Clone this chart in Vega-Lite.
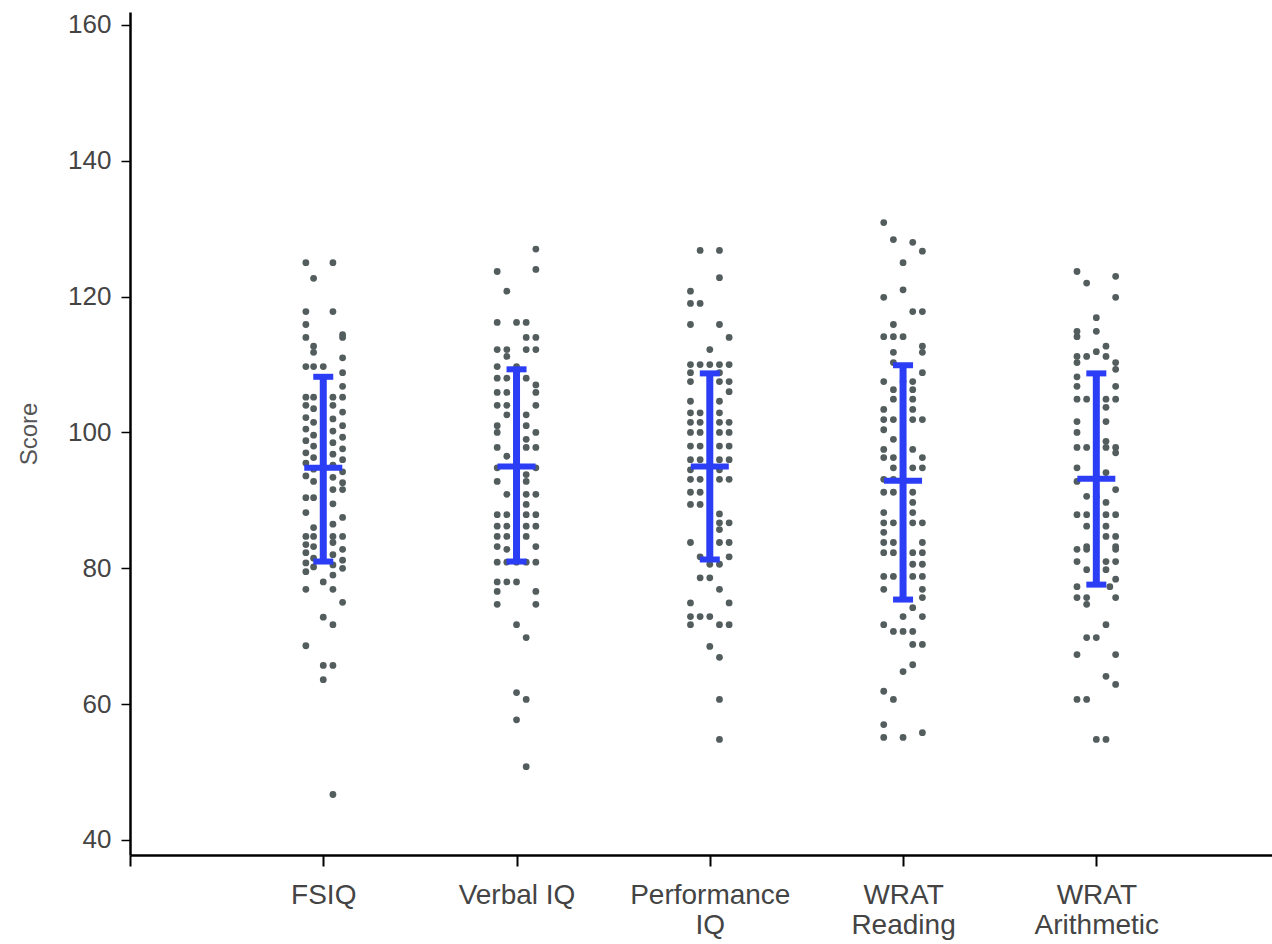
{
  "$schema": "https://vega.github.io/schema/vega-lite/v6.json",
  "width": 1142,
  "height": 843,
  "autosize": {"type": "none"},
  "padding": {"left": 130, "top": 12, "right": 0, "bottom": 89},
  "background": "white",
  "config": {"view": {"stroke": null}, "font": "Liberation Sans"},
  "datasets": {
    "dots": [
      {"test":"FSIQ","score":125,"pos":0.91},{"test":"FSIQ","score":125,"pos":1.05},{"test":"FSIQ","score":122.7,"pos":0.95},{"test":"FSIQ","score":117.8,"pos":0.91},{"test":"FSIQ","score":117.8,"pos":1.05},{"test":"FSIQ","score":115.9,"pos":0.91},{"test":"FSIQ","score":114.4,"pos":1.1},{"test":"FSIQ","score":114,"pos":0.91},{"test":"FSIQ","score":114,"pos":1.1},{"test":"FSIQ","score":112.7,"pos":0.95},{"test":"FSIQ","score":111.8,"pos":0.95},{"test":"FSIQ","score":111,"pos":1.1},{"test":"FSIQ","score":109.7,"pos":0.91},{"test":"FSIQ","score":109.7,"pos":0.95},{"test":"FSIQ","score":109.7,"pos":1.0},{"test":"FSIQ","score":108.8,"pos":1.1},{"test":"FSIQ","score":106.8,"pos":1.1},{"test":"FSIQ","score":105.2,"pos":0.91},{"test":"FSIQ","score":105.2,"pos":0.95},{"test":"FSIQ","score":105.2,"pos":1.05},{"test":"FSIQ","score":105.2,"pos":1.1},{"test":"FSIQ","score":104,"pos":0.91},{"test":"FSIQ","score":104,"pos":1.05},{"test":"FSIQ","score":103.5,"pos":0.95},{"test":"FSIQ","score":103,"pos":1.1},{"test":"FSIQ","score":102.2,"pos":0.91},{"test":"FSIQ","score":102,"pos":1.05},{"test":"FSIQ","score":101.5,"pos":0.95},{"test":"FSIQ","score":101,"pos":1.1},{"test":"FSIQ","score":100.5,"pos":0.91},{"test":"FSIQ","score":100.2,"pos":1.05},{"test":"FSIQ","score":99.6,"pos":0.95},{"test":"FSIQ","score":99.3,"pos":1.1},{"test":"FSIQ","score":98.8,"pos":0.91},{"test":"FSIQ","score":98.5,"pos":1.05},{"test":"FSIQ","score":98,"pos":0.95},{"test":"FSIQ","score":97.6,"pos":1.1},{"test":"FSIQ","score":97,"pos":0.91},{"test":"FSIQ","score":96.8,"pos":1.05},{"test":"FSIQ","score":96.3,"pos":0.95},{"test":"FSIQ","score":96,"pos":1.1},{"test":"FSIQ","score":95.5,"pos":0.91},{"test":"FSIQ","score":95.2,"pos":1.05},{"test":"FSIQ","score":94.6,"pos":0.95},{"test":"FSIQ","score":94.2,"pos":1.1},{"test":"FSIQ","score":93.6,"pos":0.91},{"test":"FSIQ","score":93.4,"pos":1.05},{"test":"FSIQ","score":92.8,"pos":0.95},{"test":"FSIQ","score":92.6,"pos":1.1},{"test":"FSIQ","score":91.6,"pos":1.05},{"test":"FSIQ","score":91.6,"pos":1.1},{"test":"FSIQ","score":90.4,"pos":0.91},{"test":"FSIQ","score":90.4,"pos":0.95},{"test":"FSIQ","score":89.5,"pos":1.05},{"test":"FSIQ","score":88.2,"pos":0.91},{"test":"FSIQ","score":87.5,"pos":1.1},{"test":"FSIQ","score":86.5,"pos":1.05},{"test":"FSIQ","score":86,"pos":0.95},{"test":"FSIQ","score":84.7,"pos":0.91},{"test":"FSIQ","score":84.7,"pos":0.95},{"test":"FSIQ","score":84.7,"pos":1.05},{"test":"FSIQ","score":84.7,"pos":1.1},{"test":"FSIQ","score":83.8,"pos":1.05},{"test":"FSIQ","score":83.5,"pos":0.91},{"test":"FSIQ","score":83.2,"pos":0.95},{"test":"FSIQ","score":82.8,"pos":1.1},{"test":"FSIQ","score":82.3,"pos":0.91},{"test":"FSIQ","score":82,"pos":1.05},{"test":"FSIQ","score":81.5,"pos":0.95},{"test":"FSIQ","score":81.2,"pos":1.1},{"test":"FSIQ","score":80.8,"pos":0.91},{"test":"FSIQ","score":80.5,"pos":1.05},{"test":"FSIQ","score":80.2,"pos":0.95},{"test":"FSIQ","score":80,"pos":1.1},{"test":"FSIQ","score":79.5,"pos":0.91},{"test":"FSIQ","score":79,"pos":1.05},{"test":"FSIQ","score":78,"pos":1.0},{"test":"FSIQ","score":76.9,"pos":0.91},{"test":"FSIQ","score":76.9,"pos":1.05},{"test":"FSIQ","score":75,"pos":1.1},{"test":"FSIQ","score":72.8,"pos":1.0},{"test":"FSIQ","score":71.7,"pos":1.05},{"test":"FSIQ","score":68.6,"pos":0.91},{"test":"FSIQ","score":65.7,"pos":1.0},{"test":"FSIQ","score":65.7,"pos":1.05},{"test":"FSIQ","score":63.6,"pos":1.0},{"test":"FSIQ","score":46.7,"pos":1.05},

      {"test":"Verbal IQ","score":127,"pos":2.1},{"test":"Verbal IQ","score":124,"pos":2.1},{"test":"Verbal IQ","score":123.7,"pos":1.9},{"test":"Verbal IQ","score":120.8,"pos":1.95},{"test":"Verbal IQ","score":116.2,"pos":1.9},{"test":"Verbal IQ","score":116.2,"pos":2.0},{"test":"Verbal IQ","score":116.2,"pos":2.05},{"test":"Verbal IQ","score":114,"pos":2.05},{"test":"Verbal IQ","score":114,"pos":2.1},{"test":"Verbal IQ","score":112.2,"pos":1.9},{"test":"Verbal IQ","score":112.2,"pos":1.95},{"test":"Verbal IQ","score":112.2,"pos":2.05},{"test":"Verbal IQ","score":112.2,"pos":2.1},{"test":"Verbal IQ","score":111.2,"pos":1.95},{"test":"Verbal IQ","score":109.7,"pos":1.9},{"test":"Verbal IQ","score":109.7,"pos":2.0},{"test":"Verbal IQ","score":108,"pos":1.9},{"test":"Verbal IQ","score":108,"pos":1.95},{"test":"Verbal IQ","score":108,"pos":2.05},{"test":"Verbal IQ","score":107,"pos":2.1},{"test":"Verbal IQ","score":105.9,"pos":1.9},{"test":"Verbal IQ","score":105.9,"pos":1.95},{"test":"Verbal IQ","score":105.9,"pos":2.1},{"test":"Verbal IQ","score":104,"pos":1.9},{"test":"Verbal IQ","score":104,"pos":1.95},{"test":"Verbal IQ","score":104,"pos":2.1},{"test":"Verbal IQ","score":102.6,"pos":1.95},{"test":"Verbal IQ","score":102.6,"pos":2.05},{"test":"Verbal IQ","score":101,"pos":1.9},{"test":"Verbal IQ","score":101,"pos":2.05},{"test":"Verbal IQ","score":100,"pos":1.9},{"test":"Verbal IQ","score":100,"pos":2.1},{"test":"Verbal IQ","score":99,"pos":2.05},{"test":"Verbal IQ","score":97.8,"pos":1.9},{"test":"Verbal IQ","score":97.8,"pos":2.05},{"test":"Verbal IQ","score":97.8,"pos":2.1},{"test":"Verbal IQ","score":96.5,"pos":1.95},{"test":"Verbal IQ","score":94.8,"pos":1.9},{"test":"Verbal IQ","score":94.8,"pos":2.1},{"test":"Verbal IQ","score":93.8,"pos":2.05},{"test":"Verbal IQ","score":92.8,"pos":1.9},{"test":"Verbal IQ","score":92.8,"pos":2.05},{"test":"Verbal IQ","score":90.9,"pos":1.95},{"test":"Verbal IQ","score":90.9,"pos":2.05},{"test":"Verbal IQ","score":90.9,"pos":2.1},{"test":"Verbal IQ","score":89.4,"pos":2.0},{"test":"Verbal IQ","score":89.4,"pos":2.05},{"test":"Verbal IQ","score":87.9,"pos":1.9},{"test":"Verbal IQ","score":87.9,"pos":1.95},{"test":"Verbal IQ","score":87.9,"pos":2.05},{"test":"Verbal IQ","score":87.9,"pos":2.1},{"test":"Verbal IQ","score":86.2,"pos":1.9},{"test":"Verbal IQ","score":86.2,"pos":1.95},{"test":"Verbal IQ","score":86.2,"pos":2.05},{"test":"Verbal IQ","score":86.2,"pos":2.1},{"test":"Verbal IQ","score":84.7,"pos":1.9},{"test":"Verbal IQ","score":84.7,"pos":1.95},{"test":"Verbal IQ","score":84.7,"pos":2.05},{"test":"Verbal IQ","score":83.2,"pos":1.9},{"test":"Verbal IQ","score":83.2,"pos":2.1},{"test":"Verbal IQ","score":82.8,"pos":1.95},{"test":"Verbal IQ","score":80.9,"pos":1.9},{"test":"Verbal IQ","score":80.9,"pos":1.95},{"test":"Verbal IQ","score":80.9,"pos":2.0},{"test":"Verbal IQ","score":80.9,"pos":2.05},{"test":"Verbal IQ","score":80.9,"pos":2.1},{"test":"Verbal IQ","score":78,"pos":1.9},{"test":"Verbal IQ","score":78,"pos":1.95},{"test":"Verbal IQ","score":78,"pos":2.0},{"test":"Verbal IQ","score":76.6,"pos":1.9},{"test":"Verbal IQ","score":76.6,"pos":2.1},{"test":"Verbal IQ","score":74.7,"pos":1.9},{"test":"Verbal IQ","score":74.7,"pos":2.1},{"test":"Verbal IQ","score":71.7,"pos":2.0},{"test":"Verbal IQ","score":69.8,"pos":2.05},{"test":"Verbal IQ","score":61.7,"pos":2.0},{"test":"Verbal IQ","score":60.7,"pos":2.05},{"test":"Verbal IQ","score":57.7,"pos":2.0},{"test":"Verbal IQ","score":50.8,"pos":2.05},

      {"test":"Performance IQ","score":126.8,"pos":2.95},{"test":"Performance IQ","score":126.8,"pos":3.05},{"test":"Performance IQ","score":122.8,"pos":3.05},{"test":"Performance IQ","score":120.8,"pos":2.9},{"test":"Performance IQ","score":119,"pos":2.9},{"test":"Performance IQ","score":119,"pos":2.95},{"test":"Performance IQ","score":115.9,"pos":2.9},{"test":"Performance IQ","score":115.9,"pos":3.05},{"test":"Performance IQ","score":114,"pos":3.1},{"test":"Performance IQ","score":112.2,"pos":3.0},{"test":"Performance IQ","score":110,"pos":2.9},{"test":"Performance IQ","score":110,"pos":2.95},{"test":"Performance IQ","score":110,"pos":3.0},{"test":"Performance IQ","score":110,"pos":3.05},{"test":"Performance IQ","score":110,"pos":3.1},{"test":"Performance IQ","score":108.8,"pos":2.9},{"test":"Performance IQ","score":108.8,"pos":3.05},{"test":"Performance IQ","score":107.5,"pos":2.9},{"test":"Performance IQ","score":107.5,"pos":3.05},{"test":"Performance IQ","score":107.5,"pos":3.1},{"test":"Performance IQ","score":106,"pos":3.1},{"test":"Performance IQ","score":104.6,"pos":2.9},{"test":"Performance IQ","score":104.6,"pos":3.05},{"test":"Performance IQ","score":102.9,"pos":2.9},{"test":"Performance IQ","score":102.9,"pos":2.95},{"test":"Performance IQ","score":102.9,"pos":3.05},{"test":"Performance IQ","score":101.5,"pos":2.9},{"test":"Performance IQ","score":101.5,"pos":2.95},{"test":"Performance IQ","score":101.5,"pos":3.05},{"test":"Performance IQ","score":101.5,"pos":3.1},{"test":"Performance IQ","score":100,"pos":2.9},{"test":"Performance IQ","score":100,"pos":2.95},{"test":"Performance IQ","score":100,"pos":3.05},{"test":"Performance IQ","score":100,"pos":3.1},{"test":"Performance IQ","score":98,"pos":2.9},{"test":"Performance IQ","score":98,"pos":2.95},{"test":"Performance IQ","score":98,"pos":3.05},{"test":"Performance IQ","score":98,"pos":3.1},{"test":"Performance IQ","score":96,"pos":2.9},{"test":"Performance IQ","score":96,"pos":2.95},{"test":"Performance IQ","score":96,"pos":3.05},{"test":"Performance IQ","score":96,"pos":3.1},{"test":"Performance IQ","score":94.5,"pos":2.9},{"test":"Performance IQ","score":94.5,"pos":3.05},{"test":"Performance IQ","score":93.1,"pos":2.9},{"test":"Performance IQ","score":93.1,"pos":2.95},{"test":"Performance IQ","score":93.1,"pos":3.05},{"test":"Performance IQ","score":93.1,"pos":3.1},{"test":"Performance IQ","score":91.2,"pos":2.9},{"test":"Performance IQ","score":91.2,"pos":2.95},{"test":"Performance IQ","score":89.4,"pos":2.9},{"test":"Performance IQ","score":89.4,"pos":2.95},{"test":"Performance IQ","score":88,"pos":3.05},{"test":"Performance IQ","score":86.7,"pos":3.05},{"test":"Performance IQ","score":86.7,"pos":3.1},{"test":"Performance IQ","score":85.7,"pos":3.05},{"test":"Performance IQ","score":83.8,"pos":2.9},{"test":"Performance IQ","score":83.8,"pos":3.05},{"test":"Performance IQ","score":83.8,"pos":3.1},{"test":"Performance IQ","score":81.7,"pos":2.95},{"test":"Performance IQ","score":81.7,"pos":3.1},{"test":"Performance IQ","score":80.6,"pos":3.0},{"test":"Performance IQ","score":80.6,"pos":3.05},{"test":"Performance IQ","score":78.6,"pos":2.95},{"test":"Performance IQ","score":78.6,"pos":3.0},{"test":"Performance IQ","score":76.9,"pos":3.05},{"test":"Performance IQ","score":74.9,"pos":2.9},{"test":"Performance IQ","score":74.9,"pos":3.1},{"test":"Performance IQ","score":72.9,"pos":2.9},{"test":"Performance IQ","score":72.9,"pos":2.95},{"test":"Performance IQ","score":72.9,"pos":3.0},{"test":"Performance IQ","score":71.7,"pos":2.9},{"test":"Performance IQ","score":71.7,"pos":3.05},{"test":"Performance IQ","score":71.7,"pos":3.1},{"test":"Performance IQ","score":68.5,"pos":3.0},{"test":"Performance IQ","score":66.9,"pos":3.05},{"test":"Performance IQ","score":60.7,"pos":3.05},{"test":"Performance IQ","score":54.8,"pos":3.05},

      {"test":"WRAT Reading","score":130.9,"pos":3.9},{"test":"WRAT Reading","score":128.4,"pos":3.95},{"test":"WRAT Reading","score":128,"pos":4.05},{"test":"WRAT Reading","score":126.7,"pos":4.1},{"test":"WRAT Reading","score":125,"pos":4.0},{"test":"WRAT Reading","score":121,"pos":4.0},{"test":"WRAT Reading","score":119.9,"pos":3.9},{"test":"WRAT Reading","score":117.8,"pos":4.05},{"test":"WRAT Reading","score":117.8,"pos":4.1},{"test":"WRAT Reading","score":115.9,"pos":3.95},{"test":"WRAT Reading","score":114.1,"pos":3.9},{"test":"WRAT Reading","score":114.1,"pos":3.95},{"test":"WRAT Reading","score":114.1,"pos":4.0},{"test":"WRAT Reading","score":112.7,"pos":4.1},{"test":"WRAT Reading","score":111.8,"pos":3.95},{"test":"WRAT Reading","score":111.8,"pos":4.1},{"test":"WRAT Reading","score":110.3,"pos":3.95},{"test":"WRAT Reading","score":108.8,"pos":4.1},{"test":"WRAT Reading","score":107.5,"pos":3.9},{"test":"WRAT Reading","score":107.5,"pos":4.0},{"test":"WRAT Reading","score":107.5,"pos":4.05},{"test":"WRAT Reading","score":106.3,"pos":3.95},{"test":"WRAT Reading","score":106.3,"pos":4.05},{"test":"WRAT Reading","score":104.9,"pos":3.95},{"test":"WRAT Reading","score":104.9,"pos":4.05},{"test":"WRAT Reading","score":103.4,"pos":3.9},{"test":"WRAT Reading","score":103.4,"pos":4.05},{"test":"WRAT Reading","score":101.9,"pos":3.9},{"test":"WRAT Reading","score":101.9,"pos":3.95},{"test":"WRAT Reading","score":101.9,"pos":4.05},{"test":"WRAT Reading","score":101.9,"pos":4.1},{"test":"WRAT Reading","score":100.4,"pos":3.9},{"test":"WRAT Reading","score":99,"pos":3.95},{"test":"WRAT Reading","score":97.5,"pos":3.9},{"test":"WRAT Reading","score":97.5,"pos":4.05},{"test":"WRAT Reading","score":96.3,"pos":3.9},{"test":"WRAT Reading","score":96.3,"pos":3.95},{"test":"WRAT Reading","score":96.3,"pos":4.1},{"test":"WRAT Reading","score":94.8,"pos":3.95},{"test":"WRAT Reading","score":94.8,"pos":4.05},{"test":"WRAT Reading","score":94.8,"pos":4.1},{"test":"WRAT Reading","score":93.1,"pos":3.9},{"test":"WRAT Reading","score":93.1,"pos":3.95},{"test":"WRAT Reading","score":91.2,"pos":3.9},{"test":"WRAT Reading","score":91.2,"pos":3.95},{"test":"WRAT Reading","score":91.2,"pos":4.05},{"test":"WRAT Reading","score":89.7,"pos":4.05},{"test":"WRAT Reading","score":88.2,"pos":3.9},{"test":"WRAT Reading","score":88.2,"pos":4.05},{"test":"WRAT Reading","score":86.7,"pos":3.9},{"test":"WRAT Reading","score":86.7,"pos":3.95},{"test":"WRAT Reading","score":86.7,"pos":4.05},{"test":"WRAT Reading","score":86.7,"pos":4.1},{"test":"WRAT Reading","score":85.3,"pos":3.9},{"test":"WRAT Reading","score":83.8,"pos":3.9},{"test":"WRAT Reading","score":83.8,"pos":3.95},{"test":"WRAT Reading","score":83.8,"pos":4.1},{"test":"WRAT Reading","score":82.3,"pos":3.9},{"test":"WRAT Reading","score":82.3,"pos":3.95},{"test":"WRAT Reading","score":82.3,"pos":4.05},{"test":"WRAT Reading","score":82.3,"pos":4.1},{"test":"WRAT Reading","score":80.6,"pos":4.05},{"test":"WRAT Reading","score":80.6,"pos":4.1},{"test":"WRAT Reading","score":78.8,"pos":3.9},{"test":"WRAT Reading","score":78.8,"pos":3.95},{"test":"WRAT Reading","score":78.8,"pos":4.05},{"test":"WRAT Reading","score":78.8,"pos":4.1},{"test":"WRAT Reading","score":76.9,"pos":3.9},{"test":"WRAT Reading","score":76.9,"pos":4.1},{"test":"WRAT Reading","score":75.7,"pos":4.1},{"test":"WRAT Reading","score":74.2,"pos":4.05},{"test":"WRAT Reading","score":72.9,"pos":4.0},{"test":"WRAT Reading","score":72.9,"pos":4.1},{"test":"WRAT Reading","score":71.7,"pos":3.9},{"test":"WRAT Reading","score":70.7,"pos":3.95},{"test":"WRAT Reading","score":70.7,"pos":4.0},{"test":"WRAT Reading","score":70.7,"pos":4.05},{"test":"WRAT Reading","score":68.8,"pos":4.05},{"test":"WRAT Reading","score":68.8,"pos":4.1},{"test":"WRAT Reading","score":65.8,"pos":4.05},{"test":"WRAT Reading","score":64.8,"pos":4.0},{"test":"WRAT Reading","score":61.9,"pos":3.9},{"test":"WRAT Reading","score":60.7,"pos":3.95},{"test":"WRAT Reading","score":57,"pos":3.9},{"test":"WRAT Reading","score":55.8,"pos":4.1},{"test":"WRAT Reading","score":55.1,"pos":3.9},{"test":"WRAT Reading","score":55.1,"pos":4.0},

      {"test":"WRAT Arithmetic","score":123.7,"pos":4.9},{"test":"WRAT Arithmetic","score":123,"pos":5.1},{"test":"WRAT Arithmetic","score":122,"pos":4.95},{"test":"WRAT Arithmetic","score":119.9,"pos":5.1},{"test":"WRAT Arithmetic","score":116.9,"pos":5.0},{"test":"WRAT Arithmetic","score":114.9,"pos":4.9},{"test":"WRAT Arithmetic","score":114.9,"pos":5.0},{"test":"WRAT Arithmetic","score":114.1,"pos":4.9},{"test":"WRAT Arithmetic","score":112.7,"pos":5.05},{"test":"WRAT Arithmetic","score":111.9,"pos":5.0},{"test":"WRAT Arithmetic","score":111.2,"pos":4.9},{"test":"WRAT Arithmetic","score":111.2,"pos":4.95},{"test":"WRAT Arithmetic","score":111.2,"pos":5.05},{"test":"WRAT Arithmetic","score":110.3,"pos":4.9},{"test":"WRAT Arithmetic","score":110.3,"pos":5.1},{"test":"WRAT Arithmetic","score":109.3,"pos":5.1},{"test":"WRAT Arithmetic","score":108.2,"pos":4.9},{"test":"WRAT Arithmetic","score":106.8,"pos":4.9},{"test":"WRAT Arithmetic","score":106.8,"pos":5.1},{"test":"WRAT Arithmetic","score":104.9,"pos":4.9},{"test":"WRAT Arithmetic","score":104.9,"pos":4.95},{"test":"WRAT Arithmetic","score":104.9,"pos":5.05},{"test":"WRAT Arithmetic","score":104.9,"pos":5.1},{"test":"WRAT Arithmetic","score":103.7,"pos":5.05},{"test":"WRAT Arithmetic","score":101.6,"pos":4.9},{"test":"WRAT Arithmetic","score":101.6,"pos":5.05},{"test":"WRAT Arithmetic","score":100,"pos":4.9},{"test":"WRAT Arithmetic","score":98.7,"pos":5.05},{"test":"WRAT Arithmetic","score":97.8,"pos":4.9},{"test":"WRAT Arithmetic","score":97.8,"pos":4.95},{"test":"WRAT Arithmetic","score":97.8,"pos":5.05},{"test":"WRAT Arithmetic","score":97.8,"pos":5.1},{"test":"WRAT Arithmetic","score":97,"pos":5.1},{"test":"WRAT Arithmetic","score":94.8,"pos":4.9},{"test":"WRAT Arithmetic","score":94.1,"pos":5.05},{"test":"WRAT Arithmetic","score":92.8,"pos":4.9},{"test":"WRAT Arithmetic","score":91.6,"pos":5.1},{"test":"WRAT Arithmetic","score":90.6,"pos":4.95},{"test":"WRAT Arithmetic","score":90.6,"pos":5.0},{"test":"WRAT Arithmetic","score":89.7,"pos":5.05},{"test":"WRAT Arithmetic","score":87.9,"pos":4.9},{"test":"WRAT Arithmetic","score":87.9,"pos":4.95},{"test":"WRAT Arithmetic","score":87.9,"pos":5.05},{"test":"WRAT Arithmetic","score":87.9,"pos":5.1},{"test":"WRAT Arithmetic","score":86.2,"pos":4.95},{"test":"WRAT Arithmetic","score":86.2,"pos":5.05},{"test":"WRAT Arithmetic","score":84.7,"pos":5.05},{"test":"WRAT Arithmetic","score":84.7,"pos":5.1},{"test":"WRAT Arithmetic","score":83.2,"pos":4.95},{"test":"WRAT Arithmetic","score":83.2,"pos":5.1},{"test":"WRAT Arithmetic","score":82.8,"pos":4.9},{"test":"WRAT Arithmetic","score":82.8,"pos":4.95},{"test":"WRAT Arithmetic","score":82.8,"pos":5.1},{"test":"WRAT Arithmetic","score":81,"pos":4.9},{"test":"WRAT Arithmetic","score":81,"pos":5.05},{"test":"WRAT Arithmetic","score":81,"pos":5.1},{"test":"WRAT Arithmetic","score":79.8,"pos":4.95},{"test":"WRAT Arithmetic","score":79.8,"pos":5.05},{"test":"WRAT Arithmetic","score":78.4,"pos":5.1},{"test":"WRAT Arithmetic","score":77.3,"pos":4.9},{"test":"WRAT Arithmetic","score":77.3,"pos":5.07},{"test":"WRAT Arithmetic","score":75.7,"pos":4.9},{"test":"WRAT Arithmetic","score":75.7,"pos":4.95},{"test":"WRAT Arithmetic","score":75.7,"pos":5.1},{"test":"WRAT Arithmetic","score":74.7,"pos":4.95},{"test":"WRAT Arithmetic","score":71.7,"pos":5.05},{"test":"WRAT Arithmetic","score":69.8,"pos":4.95},{"test":"WRAT Arithmetic","score":69.8,"pos":5.0},{"test":"WRAT Arithmetic","score":67.3,"pos":4.9},{"test":"WRAT Arithmetic","score":67.3,"pos":5.1},{"test":"WRAT Arithmetic","score":64.1,"pos":5.05},{"test":"WRAT Arithmetic","score":62.9,"pos":5.1},{"test":"WRAT Arithmetic","score":60.7,"pos":4.9},{"test":"WRAT Arithmetic","score":60.7,"pos":4.95},{"test":"WRAT Arithmetic","score":54.8,"pos":5.0},{"test":"WRAT Arithmetic","score":54.8,"pos":5.05}
    ],
    "bars": [
      {"test":"FSIQ","idx":1,"lower":81,"mean":94.8,"upper":108.2},
      {"test":"Verbal IQ","idx":2,"lower":81,"mean":95,"upper":109.3},
      {"test":"Performance IQ","idx":3,"lower":81.3,"mean":95,"upper":108.7},
      {"test":"WRAT Reading","idx":4,"lower":75.4,"mean":92.9,"upper":109.9},
      {"test":"WRAT Arithmetic","idx":5,"lower":77.6,"mean":93.2,"upper":108.7}
    ]
  },
  "layer": [
    {
      "mark": {"type": "rule", "color": "#9fa9a9", "strokeWidth": 1.5},
      "encoding": {"y": {"datum": 100}}
    },
    {
      "mark": {"type": "rule", "color": "#000000", "strokeWidth": 2.5},
      "encoding": {"y": {"datum": 161.91}}
    },
    {
      "data": {"name": "dots"},
      "mark": {"type": "point", "filled": true, "shape": "circle", "size": 46, "color": "#535d5d", "opacity": 1},
      "encoding": {
        "x": {
          "field": "pos", "type": "quantitative",
          "scale": {"domain": [0, 5.909], "nice": false, "zero": false},
          "axis": {
            "values": [0, 1, 2, 3, 4, 5],
            "labelExpr": "datum.value == 1 ? 'FSIQ' : datum.value == 2 ? 'Verbal IQ' : datum.value == 3 ? ['Performance', 'IQ'] : datum.value == 4 ? ['WRAT', 'Reading'] : datum.value == 5 ? ['WRAT', 'Arithmetic'] : ''",
            "title": null, "grid": false,
            "domainColor": "#000000", "domainWidth": 2.5,
            "tickColor": "#000000", "tickWidth": 2, "tickSize": 11,
            "labelFont": "Liberation Sans", "labelFontSize": 28, "labelColor": "#444444",
            "labelLineHeight": 30, "labelPadding": 15,
            "labelOverlap": false, "labelFlush": false, "labelBound": false
          }
        },
        "y": {
          "field": "score", "type": "quantitative",
          "scale": {"domain": [37.79, 161.91], "nice": false, "zero": false},
          "axis": {
            "values": [40, 60, 80, 100, 120, 140, 160],
            "title": "Score", "grid": false,
            "domainColor": "#000000", "domainWidth": 2.5,
            "tickColor": "#000000", "tickWidth": 1.5, "tickSize": 9,
            "labelFont": "Liberation Sans", "labelFontSize": 26, "labelColor": "#444444",
            "labelPadding": 10, "labelOverlap": false, "labelFlush": false,
            "titleFont": "Liberation Sans", "titleFontSize": 24, "titleFontWeight": "normal",
            "titleColor": "#555555", "titlePadding": 26
          }
        }
      }
    },
    {
      "data": {"name": "bars"},
      "mark": {"type": "rule", "color": "#2b3ef5", "strokeWidth": 7},
      "encoding": {
        "x": {"field": "idx", "type": "quantitative"},
        "y": {"field": "lower", "type": "quantitative"},
        "y2": {"field": "upper"}
      }
    },
    {
      "data": {"name": "bars"},
      "mark": {"type": "tick", "color": "#2b3ef5", "opacity": 1, "orient": "horizontal", "size": 20, "thickness": 6},
      "encoding": {
        "x": {"field": "idx", "type": "quantitative"},
        "y": {"field": "upper", "type": "quantitative"}
      }
    },
    {
      "data": {"name": "bars"},
      "mark": {"type": "tick", "color": "#2b3ef5", "opacity": 1, "orient": "horizontal", "size": 20, "thickness": 6},
      "encoding": {
        "x": {"field": "idx", "type": "quantitative"},
        "y": {"field": "lower", "type": "quantitative"}
      }
    },
    {
      "data": {"name": "bars"},
      "mark": {"type": "tick", "color": "#2b3ef5", "opacity": 1, "orient": "horizontal", "size": 38, "thickness": 6},
      "encoding": {
        "x": {"field": "idx", "type": "quantitative"},
        "y": {"field": "mean", "type": "quantitative"}
      }
    }
  ]
}
